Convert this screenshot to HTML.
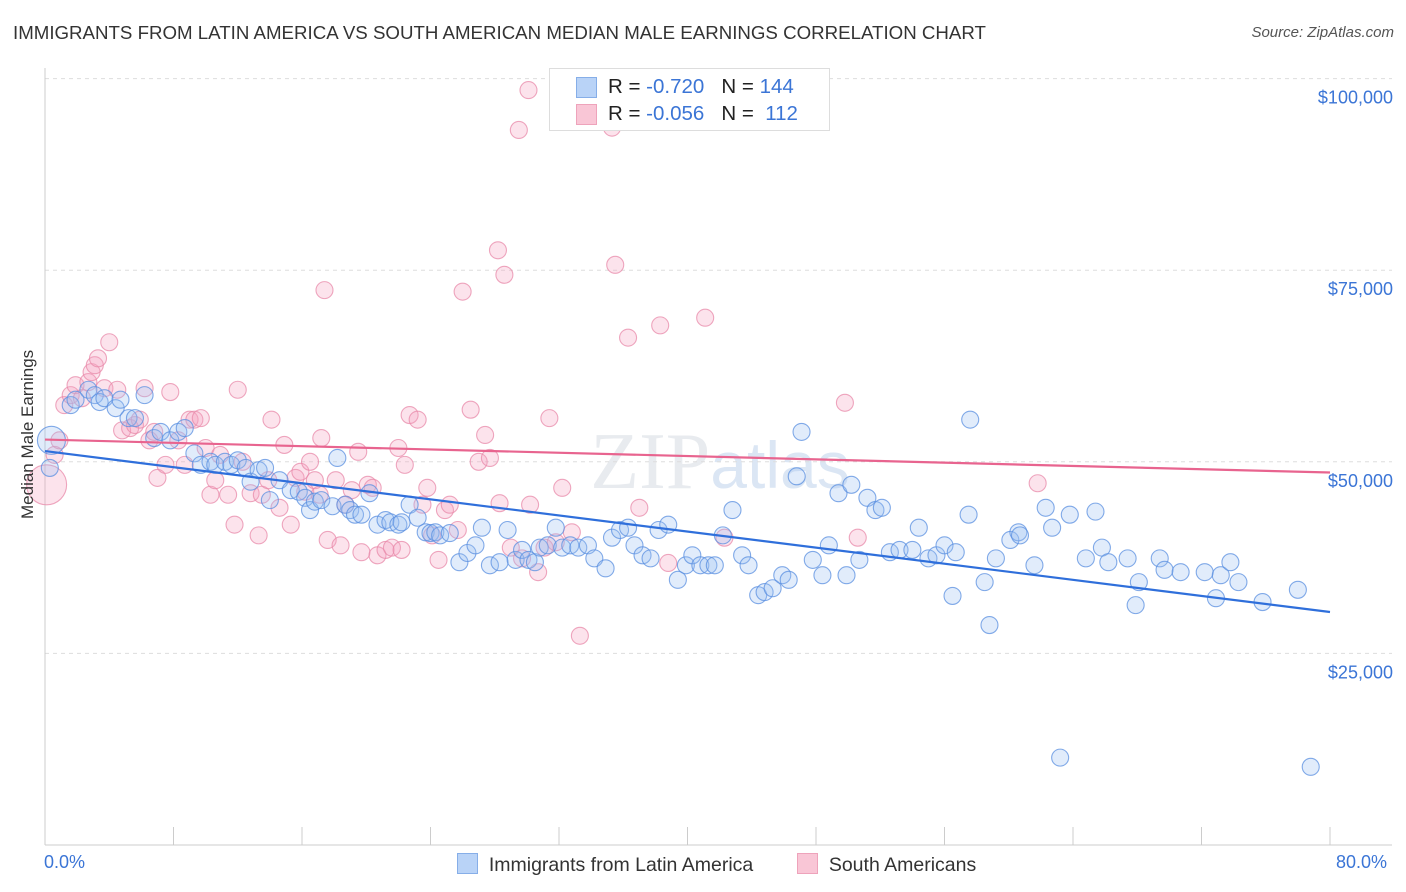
<!DOCTYPE html>
<html><head><meta charset="utf-8"><style>
body{margin:0;background:#fff;font-family:"Liberation Sans",sans-serif}
#wrap{position:relative;width:1406px;height:892px}
.t{position:absolute;white-space:nowrap}
</style></head><body>
<div id="wrap">
<div class="t" style="left:13px;top:22px;font-size:18.7px;color:#333">IMMIGRANTS FROM LATIN AMERICA VS SOUTH AMERICAN MEDIAN MALE EARNINGS CORRELATION CHART</div>
<div class="t" style="right:12px;top:24px;font-size:15px;color:#555;font-style:italic">Source: ZipAtlas.com</div>
<svg id="svg" width="1406" height="892" style="position:absolute;left:0;top:0"></svg>
</div>
<script>
const blueX=[0.4,0.3,1.6,1.9,2.7,3.1,3.4,3.7,4.4,4.7,5.2,5.6,6.2,6.8,7.2,7.8,8.3,8.7,9.3,9.7,10.3,10.6,11.2,11.6,12.0,12.5,12.8,13.3,13.7,14.0,14.6,15.3,15.8,16.2,16.5,16.8,17.2,17.9,18.2,18.7,19.0,19.3,19.7,20.2,20.7,21.2,21.5,22.0,22.2,22.7,23.2,23.7,24.0,24.3,24.6,25.2,25.8,26.3,26.8,27.2,27.7,28.3,28.8,29.3,29.7,30.1,30.5,30.8,31.3,31.8,32.2,32.7,33.2,33.8,34.2,34.9,35.3,35.8,36.3,36.7,37.2,37.7,38.2,38.8,39.4,39.9,40.3,40.8,41.3,41.7,42.2,42.8,43.4,43.8,44.4,44.8,45.3,45.9,46.3,46.8,47.1,47.8,48.4,48.8,49.4,49.9,50.2,50.7,51.2,51.7,52.1,52.6,53.2,54.0,54.4,55.0,55.5,56.0,56.5,56.7,57.5,57.6,58.5,58.8,59.2,60.1,60.6,60.7,61.6,62.3,62.7,63.2,63.8,64.8,65.4,65.8,66.2,67.4,67.9,68.1,69.4,69.7,70.7,72.2,72.9,73.2,73.8,74.3,75.8,78.0,78.8];
const blueY=[52.8,49.2,57.4,58.1,59.4,58.7,57.8,58.3,57.0,58.1,55.7,55.7,58.7,53.1,53.9,52.8,53.9,54.4,51.1,49.6,50.0,49.6,50.0,49.6,50.2,49.2,47.4,48.9,49.2,45.0,47.6,46.3,46.1,45.3,43.7,44.8,45.0,44.2,50.5,44.4,43.7,43.1,43.1,45.9,41.8,42.4,42.1,41.8,42.1,44.4,42.7,40.8,40.7,40.8,40.4,40.7,36.9,38.1,39.1,41.4,36.5,36.9,41.1,37.2,38.5,37.2,36.9,38.8,39.1,41.4,38.8,39.1,38.8,39.1,37.4,36.1,40.1,41.1,41.4,39.1,37.8,37.4,41.1,41.8,34.6,36.5,37.8,36.5,36.5,36.5,40.4,43.7,37.8,36.5,32.6,33.0,33.5,35.2,34.6,48.1,53.9,37.2,35.2,39.1,45.9,35.2,47.0,37.2,45.3,43.7,44.0,38.2,38.5,38.5,41.4,37.4,37.8,39.1,32.5,38.2,43.1,55.5,34.3,28.7,37.4,39.8,40.8,40.4,36.5,44.0,41.4,11.4,43.1,37.4,43.5,38.8,36.9,37.4,31.3,34.3,37.4,35.9,35.6,35.6,32.2,35.2,36.9,34.3,31.7,33.3,10.2];
const pinkX=[0.1,0.6,0.9,1.2,1.6,1.9,2.3,2.7,2.9,3.1,3.3,3.7,4.0,4.5,4.8,5.3,5.6,5.9,6.2,6.5,6.8,7.0,7.5,7.8,8.3,8.7,9.0,9.3,9.7,10.0,10.3,10.6,10.9,11.4,11.8,12.0,12.3,12.8,13.3,13.5,13.9,14.1,14.6,14.9,15.3,15.6,15.9,16.2,16.5,16.8,17.1,17.2,17.4,17.6,18.1,18.4,18.7,19.1,19.5,19.7,20.1,20.4,20.7,21.2,21.6,22.0,22.2,22.4,22.7,23.2,23.5,23.8,24.1,24.5,24.9,25.2,25.7,26.0,26.5,27.0,27.4,27.7,28.2,28.3,28.6,29.0,29.5,29.7,30.1,30.2,30.7,31.1,31.4,31.8,32.2,32.8,33.3,35.3,35.5,36.3,37.0,38.3,38.8,41.1,42.3,49.8,50.6,61.8];
const pinkY=[47.0,50.9,52.8,57.4,58.7,60.0,58.3,60.4,61.7,62.6,63.5,59.6,65.6,59.4,54.1,54.4,54.8,55.5,59.6,52.8,53.9,47.9,49.6,59.1,52.8,49.6,55.5,55.5,55.7,51.8,45.7,47.6,50.9,45.7,41.8,59.4,50.0,45.9,40.4,45.7,47.6,55.5,44.0,52.2,41.8,47.9,48.7,46.1,50.0,47.6,45.7,53.1,72.4,39.8,47.6,39.1,44.4,46.3,51.3,38.2,47.0,46.6,37.8,38.5,38.8,51.8,38.5,49.6,56.1,55.5,44.4,46.6,40.4,37.2,43.7,44.4,41.1,72.2,56.8,50.0,53.5,50.5,77.6,44.6,74.4,38.8,93.3,37.4,98.5,44.4,35.6,38.8,55.7,39.5,46.6,40.8,27.3,93.6,75.7,66.2,44.0,67.8,36.8,68.8,40.1,57.7,40.1,47.2];
const yTicks=[25000,50000,75000,100000];
const yTickLabels=["$25,000","$50,000","$75,000","$100,000"];
const blueTrend=[51.4,30.4];
const pinkTrend=[52.9,48.6];

const NS="http://www.w3.org/2000/svg";
const svg=document.getElementById('svg');
const X0=45,X1=1330,Y0=845,PY=191.6/25;
const sx=v=>X0+(v/80)*(X1-X0);
const sy=k=>Y0-k*PY;
function el(tag,attrs,parent){const e=document.createElementNS(NS,tag);for(const k in attrs)e.setAttribute(k,attrs[k]);(parent||svg).appendChild(e);return e;}

const wm=el('text',{x:720,y:488,'text-anchor':'middle','font-size':80,fill:'#e8ebef','font-family':'Liberation Serif, serif'});


wm.innerHTML='ZIP<tspan fill="#dbe6f4" font-family="Liberation Sans, sans-serif" font-size="66">atlas</tspan>';

yTicks.forEach((t,i)=>{
  const y=sy(t/1000);
  const g=el('line',{x1:X0,x2:1392,y1:y,y2:y,stroke:'#ddd','stroke-dasharray':'4,4'});
  
  
  const tx=el('text',{x:1393,y:y+25,'text-anchor':'end','font-size':18,fill:'#3b75d6'});
  
  
  tx.textContent=yTickLabels[i];
});
const ax=el('line',{x1:X0,x2:X0,y1:68,y2:Y0,stroke:'#ccc'});


const bx=el('line',{x1:X0,x2:1392,y1:Y0,y2:Y0,stroke:'#ccc'});


for(let i=0;i<=10;i++){
  const t=el('line',{x1:sx(i*8),x2:sx(i*8),y1:Y0-18,y2:Y0,stroke:'#ccc'});
  
  
}

function dots(xs,ys,fill,stroke,name){
  xs.forEach((x,i)=>{
    let r=8.5;
    if(i===0) r=name==='pink-point'?20:14;
    const c=el('circle',{cx:sx(x),cy:sy(ys[i]),r:r,fill:fill,'fill-opacity':0.3,stroke:stroke,'stroke-width':1.1,'stroke-opacity':0.75});
    
    
  });
}
dots(pinkX,pinkY,'#f5a3bf','#e889aa','pink-point');
dots(blueX,blueY,'#9cc0f2','#5a8fe0','blue-point');

const bl=el('line',{x1:sx(0),y1:sy(blueTrend[0]),x2:sx(80),y2:sy(blueTrend[1]),stroke:'#2f6fdb','stroke-width':2.2});


const pl=el('line',{x1:sx(0),y1:sy(pinkTrend[0]),x2:sx(80),y2:sy(pinkTrend[1]),stroke:'#e8648f','stroke-width':2.2});


</script>
<div class="t" style="left:-37px;top:444px;font-size:17px;color:#333;transform:rotate(-90deg);transform-origin:center;width:130px;text-align:center">Median Male Earnings</div>
<div class="t" style="left:44px;top:852px;font-size:18px;color:#3b75d6">0.0%</div>
<div class="t" style="left:1336px;top:852px;font-size:18px;color:#3b75d6">80.0%</div>
<div style="position:absolute;left:549px;top:68px;width:279px;height:61px;border:1px solid #ddd;background:#fff;font-size:20.5px">
  <div style="position:absolute;left:26px;top:8px;width:19px;height:19px;background:#b9d3f7;border:1px solid #86aee8"></div>
  <div class="t" style="left:58px;top:6px;color:#222">R = <span style="color:#3b75d6">-0.720</span>&nbsp;&nbsp;&nbsp;N = <span style="color:#3b75d6">144</span></div>
  <div style="position:absolute;left:26px;top:35px;width:19px;height:19px;background:#f9c6d6;border:1px solid #eea3bb"></div>
  <div class="t" style="left:58px;top:33px;color:#222">R = <span style="color:#3b75d6">-0.056</span>&nbsp;&nbsp;&nbsp;N = &nbsp;<span style="color:#3b75d6">112</span></div>
</div>
<div style="position:absolute;left:457px;top:853px;font-size:19.5px;color:#333">
  <span style="display:inline-block;width:19px;height:19px;background:#b9d3f7;border:1px solid #86aee8;vertical-align:-3px"></span>&nbsp; Immigrants from Latin America</div>
<div style="position:absolute;left:797px;top:853px;font-size:19.5px;color:#333">
  <span style="display:inline-block;width:19px;height:19px;background:#f9c6d6;border:1px solid #eea3bb;vertical-align:-3px"></span>&nbsp; South Americans</div>
</body></html>
